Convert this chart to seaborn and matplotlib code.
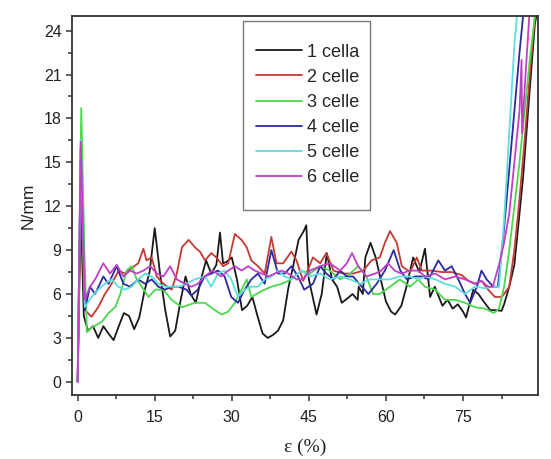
import numpy as np
import pandas as pd
import matplotlib
matplotlib.use("Agg")
import matplotlib.pyplot as plt
import seaborn as sns
from matplotlib.patches import Rectangle
from matplotlib.ticker import MultipleLocator

# ------------------------------------------------------------
# data (strain %, N/mm)
# ------------------------------------------------------------
labels = ["1 cella", "2 celle", "3 celle", "4 celle", "5 celle", "6 celle"]
colors = ["#1a1a1a", "#c43a32", "#4cd84c", "#2b2ba0", "#5edede", "#c23ec8"]

x_1 = [0, 0.6, 1.2, 2, 3, 4, 5, 6, 7, 8, 9, 10, 11, 12, 13, 14, 15, 16, 17, 18,
       19, 20, 21, 22, 23, 24, 25, 26, 27, 27.7, 28.3, 29, 30, 31, 32, 33, 34, 35, 36, 37,
       38, 39, 40, 41, 42, 43, 44, 44.5, 45, 46.5, 47.5, 48.5, 49.5, 50.5, 51.4, 52.5, 53.5, 54.5, 54.7, 55.5,
       56, 57, 58, 59, 60, 61, 61.8, 63, 64, 65.3, 66.5, 67.6, 68.6, 69.5, 71, 72, 73, 74, 75, 75.6,
       77, 78, 79, 80.3, 81.5, 82.5, 83, 84, 85, 86, 86.7, 88, 89, 89.3]
y_1 = [0, 12.0, 4.5, 3.5, 3.8, 3.0, 3.8, 3.3, 2.85, 3.8, 4.7, 4.5, 3.6, 4.4, 6.2, 7.5, 10.5, 7.5, 5.0, 3.1,
       3.5, 5.5, 7.2, 6.0, 5.4, 7.0, 8.3, 7.4, 8.0, 10.2, 8.1, 8.2, 8.5, 7.0, 4.9, 5.2, 5.8, 4.5, 3.3, 3.0,
       3.2, 3.5, 4.2, 6.4, 8.0, 9.7, 10.3, 10.7, 7.0, 4.6, 6.0, 8.8, 7.0, 6.5, 5.4, 5.7, 6.0, 5.6, 6.5, 6.0,
       8.5, 9.5, 8.5, 7.0, 5.5, 4.8, 4.6, 5.2, 6.5, 8.5, 7.5, 9.1, 5.8, 6.5, 5.2, 5.6, 5.0, 5.3, 4.8, 4.4,
       6.3, 6.0, 5.5, 4.9, 4.9, 4.85, 5.3, 6.5, 8.0, 11.5, 14.0, 20.0, 24.5, 25.0]

x_2 = [0, 0.6, 1.4, 2.7, 4.0, 5.3, 6.6, 8.0, 9.2, 10.2, 11.8, 12.8, 13.4, 14.4, 15.4, 16.7, 18.3, 19.3, 20.3, 21.6,
       22.8, 23.8, 24.8, 26.0, 27.0, 28.3, 29.3, 30.6, 31.9, 32.9, 33.8, 35.1, 36.4, 37.7, 38.7, 40.0, 41.6, 42.6, 43.9, 44.5,
       45.8, 47.2, 48.4, 49.8, 51.7, 53.6, 55.6, 57.2, 58.8, 59.8, 60.8, 62.1, 63.1, 64.7, 66.0, 67.0, 68.9, 70.9, 72.8, 74.7,
       76.1, 77.3, 78.6, 79.9, 81.2, 82.5, 83.0, 84.0, 85.0, 86.0, 87.0, 88.0, 89.0]
y_2 = [0, 13.0, 4.9, 4.45, 5.1, 6.0, 6.7, 7.6, 7.4, 7.7, 8.1, 9.1, 8.3, 8.5, 7.2, 6.7, 6.3, 7.4, 9.2, 9.7,
       9.2, 8.9, 8.3, 8.8, 8.5, 7.9, 8.1, 10.1, 9.7, 9.2, 8.3, 7.9, 7.4, 9.9, 8.1, 8.1, 8.9, 8.3, 6.9, 7.4,
       8.5, 8.1, 8.8, 7.6, 7.4, 7.4, 7.6, 8.3, 8.5, 9.5, 10.3, 9.5, 7.9, 7.5, 8.5, 7.6, 7.6, 7.5, 7.5, 7.3,
       6.9, 6.7, 6.9, 6.3, 5.8, 5.8, 6.0, 6.5, 9.0, 12.5, 16.5, 21.0, 25.0]

x_3 = [0, 0.7, 1.3, 1.8, 2.7, 4.7, 6.0, 7.3, 8.3, 9.5, 10.5, 11.5, 12.5, 13.8, 15.1, 16.7, 18.3, 20.3, 22.8, 24.8,
       26.7, 28.0, 29.3, 30.6, 31.9, 32.9, 33.8, 35.8, 37.7, 39.7, 41.6, 43.5, 45.2, 47.2, 49.1, 51.1, 53.0, 54.6, 56.2, 57.5,
       58.8, 60.8, 62.7, 64.7, 66.3, 67.6, 69.6, 71.5, 73.5, 75.4, 77.3, 79.3, 81.0, 82.0, 83.0, 84.0, 85.0, 86.0, 87.0, 88.0,
       89.0]
y_3 = [0, 18.7, 9.0, 3.4, 3.7, 4.1, 4.7, 5.1, 6.0, 7.6, 7.9, 7.0, 6.5, 5.8, 6.3, 6.3, 5.6, 5.1, 5.4, 5.4,
       4.9, 4.6, 4.8, 5.4, 6.3, 7.0, 5.8, 6.2, 6.5, 6.7, 7.0, 7.6, 7.4, 7.9, 7.6, 7.0, 7.4, 7.9, 7.2, 6.0,
       6.0, 6.5, 7.0, 6.5, 7.0, 6.5, 6.3, 5.6, 5.6, 5.4, 5.1, 5.0, 4.7, 5.0, 6.5, 9.0, 12.0, 15.0, 18.5, 22.0,
       25.0]

x_4 = [0, 0.6, 1.4, 2.4, 3.4, 5.0, 6.0, 7.6, 8.9, 10.2, 11.8, 13.1, 14.4, 15.7, 17.0, 18.3, 19.6, 21.2, 22.1, 23.4,
       24.7, 26.0, 27.3, 28.6, 29.9, 31.2, 32.5, 33.8, 35.1, 36.4, 37.7, 39.0, 40.3, 41.6, 42.9, 44.1, 45.8, 47.2, 48.4, 49.8,
       51.1, 52.4, 53.6, 55.3, 56.6, 58.2, 59.8, 61.5, 62.8, 64.1, 65.7, 67.0, 68.3, 70.2, 71.5, 72.8, 74.1, 75.4, 76.4, 77.7,
       78.6, 79.6, 80.9, 81.8, 83.0, 84.0, 85.0, 86.0, 86.7]
y_4 = [0, 16.0, 4.9, 6.5, 6.0, 7.2, 6.7, 7.9, 6.7, 6.5, 7.0, 6.7, 7.0, 6.5, 6.3, 6.5, 6.5, 6.3, 5.9, 6.3,
       7.2, 7.4, 7.6, 7.2, 5.8, 5.4, 6.3, 7.0, 7.4, 6.7, 9.0, 7.4, 7.4, 7.9, 7.2, 6.3, 6.7, 7.9, 7.4, 7.0,
       7.6, 7.2, 7.2, 6.5, 6.0, 6.7, 7.6, 9.0, 7.6, 7.0, 7.2, 7.2, 7.0, 8.3, 7.6, 7.9, 7.0, 6.0, 5.4, 6.5,
       7.6, 7.0, 6.5, 6.5, 10.5, 14.5, 18.5, 22.5, 25.0]

x_5 = [0, 0.6, 1.4, 2.7, 4.0, 5.3, 6.6, 7.9, 9.2, 10.5, 11.8, 13.1, 14.4, 15.7, 17.0, 18.3, 19.6, 21.2, 22.8, 24.8,
       26.0, 27.3, 28.6, 29.9, 31.2, 32.5, 33.8, 35.1, 36.4, 37.7, 39.0, 40.3, 41.6, 43.5, 45.2, 47.2, 49.1, 51.1, 53.0, 55.0,
       56.9, 58.8, 60.8, 62.7, 64.7, 66.3, 67.6, 69.6, 71.5, 73.5, 75.4, 77.3, 79.3, 80.9, 82.0, 83.0, 84.0, 85.0, 85.5]
y_5 = [0, 16.5, 5.1, 5.8, 6.3, 6.7, 7.0, 6.5, 6.3, 6.5, 7.0, 7.4, 7.2, 6.7, 6.5, 6.5, 6.5, 6.7, 7.0, 7.2,
       6.5, 7.4, 7.6, 7.0, 5.8, 6.3, 6.5, 6.5, 7.0, 7.2, 7.6, 7.2, 7.0, 7.6, 7.2, 7.4, 7.0, 7.2, 7.0, 6.7,
       7.0, 7.0, 7.0, 7.2, 7.2, 7.0, 7.2, 7.0, 6.7, 6.5, 6.0, 6.5, 6.4, 6.5, 6.5, 11.0, 17.0, 23.0, 25.0]

x_6 = [0, 0.6, 1.4, 2.4, 3.4, 5.0, 6.3, 7.6, 8.9, 10.2, 11.5, 12.8, 14.1, 15.4, 16.7, 18.0, 19.3, 20.9, 22.1, 23.4,
       24.7, 26.3, 27.9, 29.3, 30.6, 31.9, 33.2, 34.5, 35.8, 37.1, 38.4, 39.7, 41.0, 42.6, 43.9, 45.2, 47.2, 49.1, 51.1, 52.4,
       53.4, 54.6, 56.2, 57.9, 59.1, 60.4, 61.7, 63.0, 64.7, 66.3, 67.6, 69.6, 71.5, 73.5, 75.4, 77.3, 78.6, 79.9, 80.8, 82.0,
       83.0, 84.0, 85.0, 86.0, 86.4, 86.5, 87.0, 87.9]
y_6 = [0, 16.4, 5.6, 6.5, 7.0, 8.1, 7.4, 8.0, 7.2, 7.6, 7.4, 7.6, 7.9, 7.4, 7.2, 7.9, 7.0, 6.7, 6.5, 6.7,
       7.2, 7.6, 7.2, 7.6, 7.9, 7.6, 7.9, 7.6, 7.4, 7.2, 7.4, 7.6, 7.4, 7.0, 7.0, 7.6, 7.9, 8.1, 7.6, 8.1,
       8.8, 7.9, 7.2, 7.4, 7.6, 8.1, 7.6, 7.4, 7.6, 7.6, 7.2, 7.4, 7.0, 7.2, 7.0, 6.7, 6.9, 6.5, 6.5, 8.0,
       9.5, 11.5, 15.0, 18.5, 22.0, 17.0, 20.0, 25.0]

xs = [x_1, x_2, x_3, x_4, x_5, x_6]
ys = [y_1, y_2, y_3, y_4, y_5, y_6]

frames = []
for lab, xv, yv in zip(labels, xs, ys):
    frames.append(pd.DataFrame({"strain": xv, "force": yv, "serie": lab}))
df = pd.concat(frames, ignore_index=True)

# ------------------------------------------------------------
# plot
# ------------------------------------------------------------
sns.set_style("ticks")
plt.rcParams["font.family"] = ["Liberation Sans", "DejaVu Sans"]

fig = plt.figure(figsize=(5.51, 4.59), dpi=100)
ax = fig.add_axes([72 / 551, 1 - 395 / 459, 466 / 551, 379 / 459])

sns.lineplot(
    data=df, x="strain", y="force", hue="serie",
    palette=dict(zip(labels, colors)), hue_order=labels,
    estimator=None, sort=False, linewidth=1.3, ax=ax
)

ax.set_xlim(-1.1, 89.6)
ax.set_ylim(-0.9, 25.0)
ax.xaxis.set_major_locator(MultipleLocator(15))
ax.xaxis.set_minor_locator(MultipleLocator(7.5))
ax.yaxis.set_major_locator(MultipleLocator(3))
ax.yaxis.set_minor_locator(MultipleLocator(1.5))
ax.tick_params(which="major", direction="out", length=4.5, width=1.1, labelsize=11.5,
               color="#333333", labelcolor="#222222", pad=3)
ax.tick_params(axis="x", which="major", pad=6.5)
ax.tick_params(which="minor", direction="out", length=3, width=1.1, color="#333333")
for s in ax.spines.values():
    s.set_visible(True)
    s.set_linewidth(1.3)
    s.set_color("#333333")

ax.set_ylabel("N/mm", fontsize=12.5, color="#222222", labelpad=6)
ax.set_xlabel("ε (%)", fontsize=14, color="#222222", labelpad=10,
              family=["Liberation Serif", "DejaVu Serif"])

# legend without its own frame; the box is drawn separately (Origin style, tall padding)
leg = ax.legend(
    loc="upper left", bbox_to_anchor=(0.395, 0.927), borderaxespad=0,
    fontsize=13, frameon=False, handlelength=2.55, handletextpad=0.28,
    labelspacing=0.45, borderpad=0, title=None
)
for line in leg.get_lines():
    line.set_linewidth(1.3)

fig.patches.append(Rectangle((243 / 551, 1 - 210 / 459), 127 / 551, 189 / 459,
                             transform=fig.transFigure, fill=False,
                             edgecolor="#777777", linewidth=1.0))

fig.savefig("out.png", dpi=100, facecolor="white")
